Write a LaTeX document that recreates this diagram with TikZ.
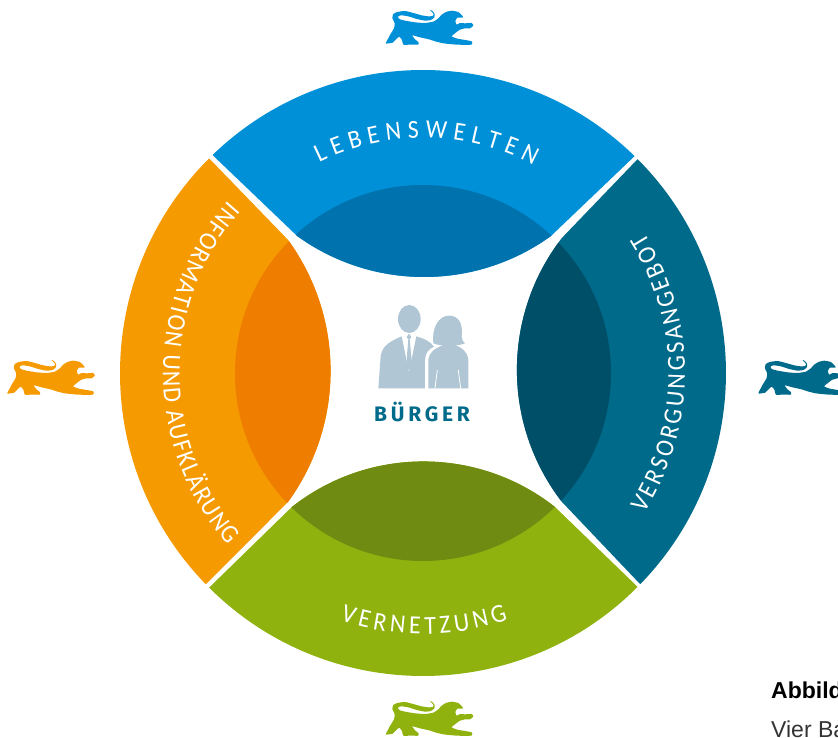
\documentclass[tikz,border=0pt]{standalone}
\usepackage{fontspec}
\usetikzlibrary{decorations.text}
\setmainfont{Liberation Sans}
\newfontfamily\ringfont[FakeStretch=0.92]{Carlito}
\newfontfamily\citizenfont[LetterSpace=18]{Fira Sans}

\definecolor{lblue}{HTML}{0090D7}
\definecolor{lbluedark}{HTML}{0073AE}
\definecolor{lteal}{HTML}{006A8A}
\definecolor{ltealdark}{HTML}{004F68}
\definecolor{lorange}{HTML}{F59A00}
\definecolor{lorangedark}{HTML}{EF7D00}
\definecolor{lgreen}{HTML}{8FB20F}
\definecolor{lgreendark}{HTML}{6F8B12}
\definecolor{lperson}{HTML}{B0C6D4}

\newcommand{\blueband}{(134:303) arc[start angle=134, end angle=45.7, radius=303] -- (128,137) arc[start angle=305.8, end angle=234.2, radius=217] -- cycle}
\newcommand{\tealband}{(44.9:303) arc[start angle=44.9, end angle=-44.2, radius=303] -- (139,-129) arc[start angle=217.7, end angle=142.3, radius=216] -- cycle}
\newcommand{\orangeband}{(134.9:303) arc[start angle=134.9, end angle=224.2, radius=303] -- (-135,-129) arc[start angle=-36, end angle=36, radius=223] -- cycle}
\newcommand{\greenband}{(225.1:303) arc[start angle=225.1, end angle=315.1, radius=303] -- (132,-134) arc[start angle=51.8, end angle=128.2, radius=212.8] -- cycle}
\newcommand{\ringstyle}{\ringfont\fontsize{26}{26}\selectfont\color{white}}

\tikzset{
  ringtext/.style={decorate, decoration={text along path, text align={fit to path}, text={#1}}},
  lion/.pic={
    \fill[pic actions, x=0.3333pt, y=-0.3333pt] plot[smooth cycle, tension=0.3] coordinates {
      (48,128) (60,105) (72,85) (74,70) (67,54) (70,42) (82,36) (105,33) (130,39) (155,46)
      (175,49) (188,48) (191,43) (186,36) (180,30) (187,33) (194,42) (193,52) (183,60) (165,62)
      (140,57) (115,49) (95,46) (86,48) (84,53) (90,58) (105,62) (135,67) (165,69) (190,65)
      (205,55) (215,44) (228,36) (245,32) (265,36) (274,44) (280,52) (270,53) (262,53) (256,63)
      (260,74) (270,69) (285,70) (305,69) (310,77) (300,85) (285,85) (268,90) (255,100) (245,109)
      (262,116) (285,120) (305,124) (305,134) (260,134) (220,130) (195,124) (177,118) (150,112) (127,106)
      (135,118) (145,126) (145,134) (120,134) (100,134) (96,120) (88,110) (78,118) (68,128) (48,131)};
  }
}

\begin{document}
\begin{tikzpicture}[x=1pt, y=1pt]
  \useasboundingbox (-423, -365) rectangle (415, 373);

  % bands
  \fill[lblue] \blueband;
  \fill[lteal] \tealband;
  \fill[lorange] \orangeband;
  \fill[lgreen] \greenband;

  % darker part inside the inner circle
  \begin{scope}
    \clip \blueband;
    \fill[lbluedark] (0, 0) circle (188);
  \end{scope}
  \begin{scope}
    \clip \tealband;
    \fill[ltealdark] (0, 0) circle (188);
  \end{scope}
  \begin{scope}
    \clip \orangeband;
    \fill[lorangedark] (0, 0) circle (188);
  \end{scope}
  \begin{scope}
    \clip \greenband;
    \fill[lgreendark] (0, 0) circle (188);
  \end{scope}

  % ring labels
  \path[ringtext={|\ringstyle|LEBENSWELTEN}]
    (116.2:235) arc[start angle=116.2, end angle=62, radius=235];
  \path[ringtext={|\ringstyle|VERSORGUNGSANGEBOT}]
    (-32.5:262) arc[start angle=-32.5, end angle=32.5, radius=262];
  \path[ringtext={|\ringstyle|INFORMATION UND AUFKLÄRUNG}]
    (138.5:260) arc[start angle=138.5, end angle=221.5, radius=260];
  \path[ringtext={|\ringstyle|VERNETZUNG}]
    (251.5:261) arc[start angle=251.5, end angle=289, radius=261];

  % lions
  \pic[fill=lblue] at (-53, 373) {lion};
  \pic[fill=lteal] at (319.5, 23) {lion};
  \pic[fill=lorange] at (-431.5, 23) {lion};
  \pic[fill=lgreen] at (-53, -318) {lion};

  % people
  \begin{scope}[shift={(-63, 78)}, x=0.3333pt, y=-0.3333pt]
    \fill[lperson] (148, 72) ellipse (34 and 42);
    \fill[lperson] (55, 280) -- (62, 185) .. controls (66, 160) and (75, 145) .. (125, 124)
      -- (147, 232) -- (169, 124) .. controls (190, 130) and (210, 138) .. (222, 155)
      .. controls (205, 162) and (196, 175) .. (195, 195) -- (195, 280) -- cycle;
    \fill[lperson] (147, 116) -- (154, 126) -- (149, 133) -- (156, 205) -- (147, 228) -- (139, 205) -- (145, 133) -- (140, 126) -- cycle;
    \fill[lperson] (205, 280) -- (205, 195) .. controls (208, 170) and (225, 160) .. (250, 150)
      -- (285, 150) .. controls (305, 158) and (322, 168) .. (325, 195) -- (325, 280) -- cycle;
    \fill[lperson] (220, 145) .. controls (215, 105) and (232, 62) .. (268, 62)
      .. controls (295, 62) and (310, 85) .. (305, 125) .. controls (305, 135) and (310, 140) .. (315, 145)
      .. controls (290, 155) and (245, 155) .. (220, 145) -- cycle;
    \draw[white, line width=0.8pt] (232, 225) -- (225, 280) (295, 225) -- (302, 280);
  \end{scope}
  \node[text=lteal, font=\citizenfont\bfseries\fontsize{21}{21}\selectfont] (citizen) at (-1, -39) {BÜRGER};

  % caption
  \node[anchor=base west, inner sep=0pt, font=\bfseries\fontsize{23}{23}\selectfont] (captionhead) at (348, -325) {Abbild};
  \node[anchor=base west, inner sep=0pt, text=black!80, font=\fontsize{23}{23}\selectfont] (captionline) at (348, -364) {Vier Ba};
\end{tikzpicture}
\end{document}
